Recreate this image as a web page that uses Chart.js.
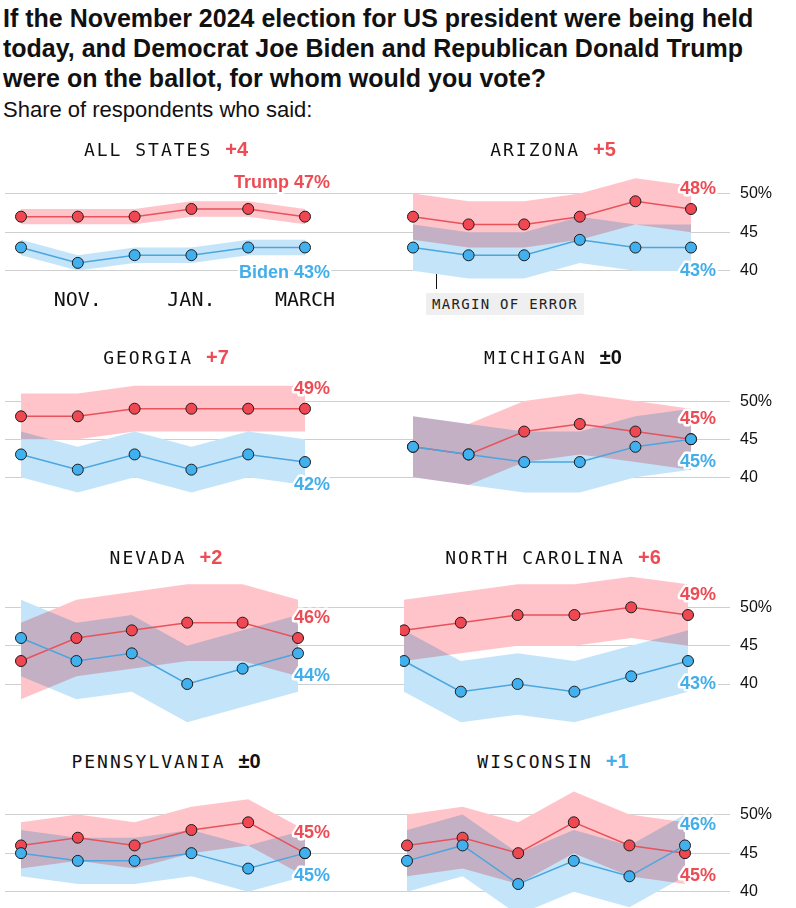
<!DOCTYPE html>
<html>
<head>
<meta charset="utf-8">
<script src="https://cdn.jsdelivr.net/npm/chart.js@4.4.1/dist/chart.umd.min.js"></script>
<style>
html,body{margin:0;padding:0;background:#fff;}
body{width:796px;height:908px;overflow:hidden;position:relative;font-family:'Liberation Sans',Arial,Helvetica,sans-serif;color:#111;}
#title{position:absolute;left:3px;top:3px;font-weight:bold;font-size:25px;line-height:30px;white-space:nowrap;}
#subtitle{position:absolute;left:3px;top:98px;font-size:22px;line-height:24px;white-space:nowrap;}
.ptitle{position:absolute;height:26px;line-height:26px;white-space:nowrap;transform:translateX(-50%);z-index:2;}
.pname{font-family:'DejaVu Sans Mono',monospace;font-size:18px;letter-spacing:2px;color:#111;}
.plead{font-family:'Liberation Sans',Arial,sans-serif;font-weight:bold;font-size:20px;margin-left:13px;}
canvas{position:absolute;}
#moeLine{position:absolute;left:436px;top:270px;width:1px;height:19px;background:#111;}
#moe{position:absolute;left:426px;top:293px;width:158px;height:22px;background:#efefef;font-family:'DejaVu Sans Mono',monospace;font-size:14px;letter-spacing:1.3px;line-height:22px;color:#222;padding-left:6px;box-sizing:border-box;white-space:nowrap;}
</style>
</head>
<body>
<div id="title">If the November 2024 election for US president were being held<br>today, and Democrat Joe Biden and Republican Donald Trump<br>were on the ballot, for whom would you vote?</div>
<div id="subtitle">Share of respondents who said:</div>
<div id="moeLine"></div>
<div id="moe">MARGIN OF ERROR</div>
<script>
// ---------------- DATA ----------------
const months = ['OCT.', 'NOV.', 'DEC.', 'JAN.', 'FEB.', 'MARCH'];
const shownMonths = ['NOV.', 'JAN.', 'MARCH'];
const yTickValues = [40, 45, 50];
const panelNames = ['ALL STATES', 'ARIZONA', 'GEORGIA', 'MICHIGAN', 'NEVADA', 'NORTH CAROLINA', 'PENNSYLVANIA', 'WISCONSIN'];
const netLead = ['+4', '+5', '+7', '±0', '+2', '+6', '±0', '+1'];
const leadParty = ['trump', 'trump', 'trump', 'tie', 'trump', 'trump', 'tie', 'biden'];
const marginOfError = [1, 3, 3, 4, 5, 4, 3, 4];

const trumpAll = [47, 47, 47, 48, 48, 47];
const bidenAll = [43, 41, 42, 42, 43, 43];
const trumpAZ = [47, 46, 46, 47, 49, 48];
const bidenAZ = [43, 42, 42, 44, 43, 43];
const trumpGA = [48, 48, 49, 49, 49, 49];
const bidenGA = [43, 41, 43, 41, 43, 42];
const trumpMI = [44, 43, 46, 47, 46, 45];
const bidenMI = [44, 43, 42, 42, 44, 45];
const trumpNV = [43, 46, 47, 48, 48, 46];
const bidenNV = [46, 43, 44, 40, 42, 44];
const trumpNC = [47, 48, 49, 49, 50, 49];
const bidenNC = [43, 39, 40, 39, 41, 43];
const trumpPA = [46, 47, 46, 48, 49, 45];
const bidenPA = [45, 44, 44, 45, 43, 45];
const trumpWI = [46, 47, 45, 49, 46, 45];
const bidenWI = [44, 46, 41, 44, 42, 46];

const trumpSeries = [trumpAll, trumpAZ, trumpGA, trumpMI, trumpNV, trumpNC, trumpPA, trumpWI];
const bidenSeries = [bidenAll, bidenAZ, bidenGA, bidenMI, bidenNV, bidenNC, bidenPA, bidenWI];

// ---------------- STYLE / LAYOUT ----------------
const C = {
  redText: '#ee4c55', blueText: '#43aeea',
  redLine: '#e8525b', blueLine: '#4ba5de',
  redDot: '#ef4852', blueDot: '#40b0ef',
  redBand: '#ffc4c9', blueBand: '#c4e5f9',
  grid: '#cfcfcf', dotBorder: '#1c1c1c'
};
const rows = [
  {y50: 194, ppp: 7.7, titleY: 149},
  {y50: 401, ppp: 7.6, titleY: 357},
  {y50: 607.5, ppp: 7.65, titleY: 557},
  {y50: 815, ppp: 7.7, titleY: 761}
];
const cols = [
  {areaL: 5, areaR: 400, canvasL: 5, canvasW: 395, center: 166, labelX: 330, axisRight: false},
  {areaL: 400, areaR: 730, canvasL: 400, canvasW: 396, center: 553, labelX: 716, axisRight: true}
];
const pointSpan = [[21, 305], [413, 691], [21, 305], [413, 691], [21, 298], [404, 688], [21, 305], [407, 685]];

const blendPlugin = {
  id: 'bandBlend',
  beforeDatasetsDraw(chart) {
    const ds = chart.data.datasets;
    chart.ctx.globalCompositeOperation = ds[ds.length - 1].blend || 'source-over';
  },
  afterDatasetDraw(chart, args) {
    const next = chart.data.datasets[args.index - 1];
    chart.ctx.globalCompositeOperation = (next && next.blend) || 'source-over';
  },
  afterDatasetsDraw(chart) { chart.ctx.globalCompositeOperation = 'source-over'; }
};

function endLabelPlugin(i, c) {
  return {
    id: 'endLabels',
    afterDatasetsDraw(chart) {
      const ctx = chart.ctx, ys = chart.scales.y;
      const T = trumpSeries[i], B = bidenSeries[i];
      const tLast = T[T.length - 1], bLast = B[B.length - 1];
      const trumpUp = tLast >= bLast;
      const isAll = i === 0;
      const up = isAll ? 34 : 20, down = isAll ? 26 : 23;
      const x = c.labelX - c.canvasL;
      const items = [
        {text: (isAll ? 'Trump ' : '') + tLast + '%', color: C.redText, y: ys.getPixelForValue(tLast) + (trumpUp ? -up : down)},
        {text: (isAll ? 'Biden ' : '') + bLast + '%', color: C.blueText, y: ys.getPixelForValue(bLast) + (trumpUp ? down : -up)}
      ];
      ctx.save();
      ctx.font = 'bold 18px "Liberation Sans", Arial, sans-serif';
      ctx.textAlign = 'right';
      ctx.textBaseline = 'middle';
      ctx.lineJoin = 'round';
      items.forEach(it => {
        ctx.lineWidth = 5; ctx.strokeStyle = '#fff';
        ctx.strokeText(it.text, x, it.y);
        ctx.fillStyle = it.color;
        ctx.fillText(it.text, x, it.y);
      });
      ctx.restore();
    }
  };
}

function makePanel(i) {
  const r = rows[Math.floor(i / 2)], c = cols[i % 2];
  const isAll = i === 0;
  const yMax = 55, yMin = isAll ? 38 : 34;
  const areaH = Math.round((yMax - yMin) * r.ppp);
  const ppp = areaH / (yMax - yMin);
  const top = Math.round(r.y50 - (yMax - 50) * ppp);
  const xAxisH = isAll ? 30 : 0;

  // panel title
  const t = document.createElement('div');
  t.className = 'ptitle';
  t.style.left = c.center + 'px';
  t.style.top = (r.titleY - 13) + 'px';
  const leadColor = leadParty[i] === 'trump' ? C.redText : (leadParty[i] === 'biden' ? C.blueText : '#111');
  t.innerHTML = '<span class="pname">' + panelNames[i] + '</span><span class="plead" style="color:' + leadColor + '">' + netLead[i] + '</span>';
  document.body.appendChild(t);

  const cv = document.createElement('canvas');
  cv.width = c.canvasW; cv.height = areaH + xAxisH;
  cv.style.left = c.canvasL + 'px'; cv.style.top = top + 'px';
  cv.style.width = c.canvasW + 'px'; cv.style.height = (areaH + xAxisH) + 'px';
  document.body.appendChild(cv);

  const [p0, p5] = pointSpan[i];
  const unit = (p5 - p0) / 5;
  const xMin = -(p0 - c.areaL) / unit, xMax = 5 + (c.areaR - p5) / unit;
  const moe = marginOfError[i];
  const T = trumpSeries[i], B = bidenSeries[i];
  const pts = (a, d) => a.map((v, k) => ({x: k, y: v + d}));
  const band = (a, d, color, fill, blend) => ({data: pts(a, d), borderWidth: 0, pointRadius: 0, fill: fill, backgroundColor: color, blend: blend});
  const line = (label, a, lc, dc) => ({label: label, data: pts(a, 0), borderColor: lc, borderWidth: 1.5, pointRadius: 5.5,
    pointBackgroundColor: dc, pointBorderColor: C.dotBorder, pointBorderWidth: 1, fill: false});
  const none = 'rgba(0,0,0,0)';

  new Chart(cv, {
    type: 'line',
    data: {
      datasets: [
        line('Biden', B, C.blueLine, C.blueDot),
        line('Trump', T, C.redLine, C.redDot),
        band(B, moe, C.blueBand, '+1', 'multiply'),
        band(B, -moe, none, false, 'multiply'),
        band(T, moe, C.redBand, '+1', 'multiply'),
        band(T, -moe, none, false, 'multiply'),
        band(B, moe, '#ffffff', '+1', 'source-over'),
        band(B, -moe, none, false, 'source-over'),
        band(T, moe, '#ffffff', '+1', 'source-over'),
        band(T, -moe, none, false, 'source-over')
      ]
    },
    options: {
      responsive: false, animation: false, events: [],
      layout: {autoPadding: false, padding: 0},
      elements: {line: {tension: 0}},
      plugins: {legend: {display: false}, tooltip: {enabled: false}, title: {display: false}},
      scales: {
        x: {
          type: 'linear', min: xMin, max: xMax, display: isAll,
          grid: {display: false, drawTicks: false}, border: {display: false},
          afterBuildTicks: s => { s.ticks = shownMonths.map(m => ({value: months.indexOf(m)})); },
          ticks: {callback: v => months[v] || '', font: {family: "'DejaVu Sans Mono', monospace", size: 20}, color: '#111', padding: 3, maxRotation: 0, autoSkip: false},
          afterFit: s => { if (isAll) { s.height = xAxisH; s.paddingLeft = 0; s.paddingRight = 0; } }
        },
        y: {
          type: 'linear', min: yMin, max: yMax, position: c.axisRight ? 'right' : 'left',
          afterBuildTicks: s => { s.ticks = yTickValues.map(v => ({value: v})); },
          grid: {color: C.grid, lineWidth: 1, drawTicks: false}, border: {display: false},
          ticks: {display: c.axisRight, padding: 10, font: {family: "'Liberation Sans', Arial, sans-serif", size: 16}, color: '#111',
            callback: v => v === 50 ? '50%' : String(v)},
          afterFit: s => { s.width = c.axisRight ? 66 : 0; s.paddingTop = 0; s.paddingBottom = 0; }
        }
      }
    },
    plugins: [blendPlugin, endLabelPlugin(i, c)]
  });
}

for (let i = 0; i < panelNames.length; i++) makePanel(i);
</script>
</body>
</html>
